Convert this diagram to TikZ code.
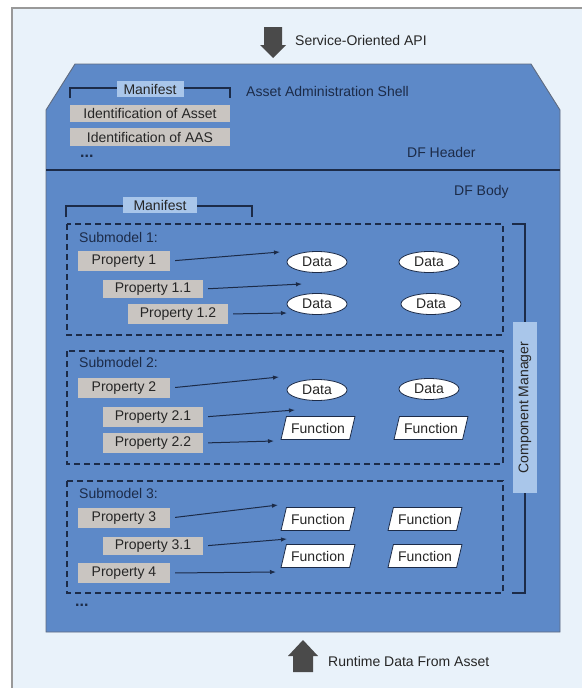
\documentclass[tikz,border=0pt]{standalone}
\usepackage{fontspec}
\setmainfont{Liberation Sans}
\usetikzlibrary{arrows.meta,shapes.geometric}
\definecolor{pagebg}{HTML}{E9F2FA}
\definecolor{shellblue}{HTML}{5D89C8}
\definecolor{navy}{HTML}{1C2B48}
\definecolor{propgray}{HTML}{C9C5C1}
\definecolor{lightblue}{HTML}{A9C6EA}
\definecolor{bigarrow}{HTML}{4A4A4A}
\definecolor{txt}{HTML}{262626}
\newcommand{\txtsize}{\fontsize{14}{16}\selectfont}
\tikzset{
  lbl/.style={font=\txtsize, text=navy, inner sep=0pt},
  propbox/.style={fill=propgray, text=txt, font=\txtsize,
    inner sep=0pt, minimum height=20pt},
  tagbox/.style={fill=lightblue, text=txt, font=\txtsize,
    inner sep=0pt, minimum height=16pt},
  datanode/.style={ellipse, draw=navy, line width=0.8pt, fill=white, text=txt,
    font=\txtsize, inner sep=0pt, minimum width=60pt, minimum height=21pt},
  funcnode/.style={trapezium, trapezium left angle=66, trapezium right angle=114,
    trapezium stretches=true, draw=navy, line width=0.8pt, fill=white, text=txt,
    font=\txtsize, inner sep=0pt, minimum width=74pt, minimum height=23pt},
  submodel/.style={draw=navy, line width=1.1pt, dash pattern=on 6pt off 4pt},
  link/.style={draw=navy, line width=1pt, -{Latex[length=6pt,width=4.5pt]}, shorten <=5pt},
  bracket/.style={draw=navy, line width=1.2pt},
  dots/.style={font=\bfseries\fontsize{16}{16}\selectfont, text=navy, inner sep=0pt},
}
\begin{document}
\begin{tikzpicture}[x=1pt,y=-1pt]
\useasboundingbox (0,0) rectangle (581,688);
\fill[white] (0,0) rectangle (581,688);
% page panel
\fill[pagebg] (12,8) rectangle (590,700);
\draw[gray!80, line width=1.2pt] (12,700) -- (12,8) -- (590,8);

% big in/out arrows
\fill[bigarrow] (264,27) -- (282,27) -- (282,45) -- (286,45) -- (273,58) -- (260,45) -- (264,45) -- cycle;
\node[lbl, text=txt, anchor=west] (api) at (295,40) {Service-Oriented API};
\fill[bigarrow] (293,672) -- (313,672) -- (313,656) -- (318,656) -- (303,640) -- (288,656) -- (293,656) -- cycle;
\node[lbl, text=txt, anchor=west] (runtime) at (328,661) {Runtime Data From Asset};

% shell outline
\fill[shellblue] (75,64) -- (531,64) -- (560,110) -- (560,632) -- (46,632) -- (46,110) -- cycle;
\draw[navy!70, line width=0.9pt] (75,64) -- (531,64) -- (560,110) -- (560,632) -- (46,632) -- (46,110) -- cycle;
\draw[navy, line width=1.4pt] (46,170) -- (560,170);

% header
\draw[bracket] (70,98) -- (70,88) -- (230,88) -- (230,98);
\node[tagbox, minimum width=67pt] (hman) at (150,89) {Manifest};
\node[lbl, anchor=west] (aas) at (246,91) {Asset Administration Shell};
\node[propbox, minimum width=160pt, minimum height=17pt] (idasset) at (150,113.5) {Identification of Asset};
\node[propbox, minimum width=160pt, minimum height=18pt] (idaas) at (150,137) {Identification of AAS};
\node[dots, anchor=west] (hdots) at (80,156) {...};
\node[lbl, anchor=west] (dfh) at (407,152) {DF Header};

% body
\node[lbl, anchor=west] (dfb) at (454,192) {DF Body};
\draw[bracket] (66,217) -- (66,206) -- (252,206) -- (252,217);
\node[tagbox, minimum width=74pt] (bman) at (160,205) {Manifest};

% component manager
\draw[bracket] (512,224) -- (525,224) -- (525,593) -- (512,593);
\node[tagbox, rotate=90, minimum width=171pt, minimum height=24pt] (cm) at (525,407.5) {Component Manager};

% submodel 1
\draw[submodel] (67,224) rectangle (503,335);
\node[lbl, anchor=west] (s1) at (79,237) {Submodel 1:};
\node[propbox, minimum width=92pt] (p1) at (124,261) {Property 1};
\node[propbox, minimum width=100pt, minimum height=18pt] (p11) at (153,289) {Property 1.1};
\node[propbox, minimum width=100pt] (p12) at (178,314) {Property 1.2};
\node[datanode] (d1a) at (317,262) {Data};
\node[datanode] (d1b) at (429,262) {Data};
\node[datanode] (d1c) at (317,304) {Data};
\node[datanode] (d1d) at (431,304) {Data};
\coordinate (e1) at (280,252);
\coordinate (e11) at (302,284);
\coordinate (e12) at (287,313);
\draw[link] (p1.east) -- (e1);
\draw[link] (p11.east) -- (e11);
\draw[link] (p12.east) -- (e12);

% submodel 2
\draw[submodel] (67,351) rectangle (503,464);
\node[lbl, anchor=west] (s2) at (79,362) {Submodel 2:};
\node[propbox, minimum width=92pt] (p2) at (124,388) {Property 2};
\node[propbox, minimum width=100pt] (p21) at (153,417) {Property 2.1};
\node[propbox, minimum width=100pt] (p22) at (153,443) {Property 2.2};
\node[datanode] (d2a) at (317,390) {Data};
\node[datanode] (d2b) at (429,389) {Data};
\node[funcnode] (f2a) at (318,428) {Function};
\node[funcnode] (f2b) at (431,428) {Function};
\coordinate (e2) at (279,377);
\coordinate (e21) at (295,410);
\coordinate (e22) at (274,441);
\draw[link] (p2.east) -- (e2);
\draw[link] (p21.east) -- (e21);
\draw[link] (p22.east) -- (e22);

% submodel 3
\draw[submodel] (67,481) rectangle (503,593);
\node[lbl, anchor=west] (s3) at (79,493) {Submodel 3:};
\node[propbox, minimum width=92pt] (p3) at (124,518) {Property 3};
\node[propbox, minimum width=100pt, minimum height=18pt] (p31) at (153,546) {Property 3.1};
\node[propbox, minimum width=92pt] (p4) at (124,573) {Property 4};
\node[funcnode] (f3a) at (318,519) {Function};
\node[funcnode] (f3b) at (425,519) {Function};
\node[funcnode] (f3c) at (318,556) {Function};
\node[funcnode] (f3d) at (425,556) {Function};
\coordinate (e3) at (278,505);
\coordinate (e31) at (287,539);
\coordinate (e4) at (276,572);
\draw[link] (p3.east) -- (e3);
\draw[link] (p31.east) -- (e31);
\draw[link] (p4.east) -- (e4);

\node[dots, anchor=west] (bdots) at (75,605) {...};
\end{tikzpicture}
\end{document}
